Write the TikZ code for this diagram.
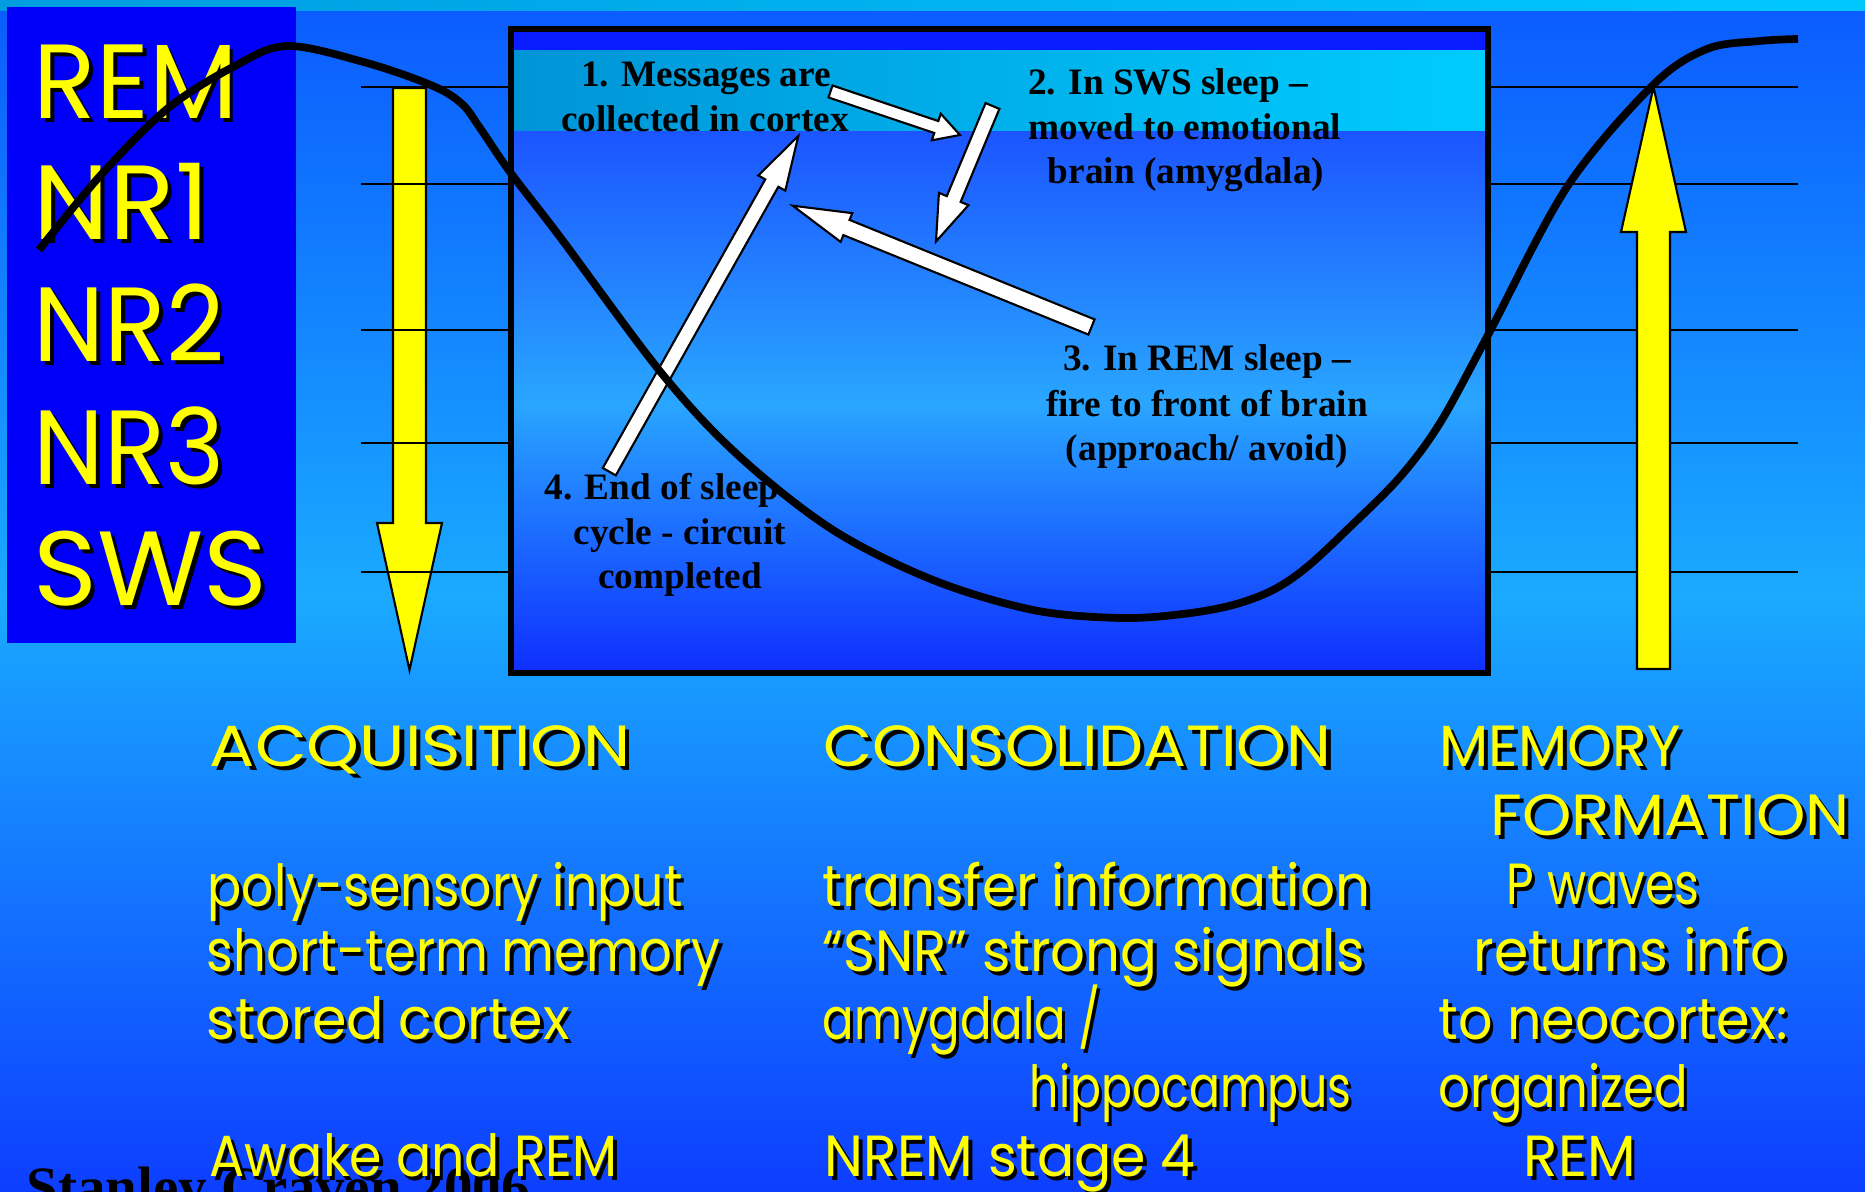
\documentclass[tikz,border=0pt]{standalone}
\usepackage{fontspec}
\usepackage{graphicx}
\setmainfont{Liberation Serif}
\newfontfamily\comic{Poppins}
\usetikzlibrary{calc}

\definecolor{bgtop}{HTML}{0B5BFF}
\definecolor{bgmid}{HTML}{1AAAFF}
\definecolor{bgbot}{HTML}{0D3EFF}
\definecolor{stripL}{HTML}{009CE0}
\definecolor{stripR}{HTML}{00C8FF}
\definecolor{labelblue}{HTML}{0000FA}
\definecolor{boxdark}{HTML}{0A1CFF}
\definecolor{cyanL}{HTML}{0094D6}
\definecolor{cyanR}{HTML}{00CCFF}
\definecolor{boxtop}{HTML}{1C55FF}
\definecolor{boxmid}{HTML}{29A6FF}
\definecolor{boxbot}{HTML}{0F2EFF}
\definecolor{yel}{HTML}{FFFF00}

% yellow lettering with a dark drop shadow
\newcommand\shtext[1]{\rlap{\kern1.1pt\raisebox{-1.1pt}{\textcolor{black}{#1}}}#1}
% the same, squeezed to a given width (in picture units)
\newlength\pxlen
\setlength\pxlen{0.01cm}
\newcommand\fitw[2]{\resizebox{#1\pxlen}{\height}{\shtext{#2}}}

% white block arrow from tail to tip: half shaft width, half head width, head length
\newcommand\blockarrow[5]{%
  \coordinate (ba-neck) at ($(#2)!#5!(#1)$);
  \draw[warrow]
    ($(#1)!#3!90:(#2)$) -- ($(ba-neck)!#3!-90:(#1)$) -- ($(ba-neck)!#4!-90:(#1)$)
    -- (#2) -- ($(ba-neck)!#4!90:(#1)$) -- ($(ba-neck)!#3!90:(#1)$)
    -- ($(#1)!#3!-90:(#2)$) -- cycle;}

\tikzset{
  gridline/.style={line width=0.6pt, black},
  yarrow/.style={fill=yel, draw=black, line width=0.6pt, line join=miter},
  warrow/.style={fill=white, draw=black, line width=0.6pt, line join=miter},
  stagelbl/.style={anchor=base west, inner sep=0pt, text=yel,
    font=\comic\fontsize{30}{30}\selectfont},
  bigtxt/.style={anchor=base west, inner sep=0pt, text=yel,
    font=\comic\fontsize{16.5}{16.5}\selectfont},
  boxtxt/.style={anchor=base, inner sep=0pt, text=black,
    font=\bfseries\fontsize{10.6}{13}\selectfont},
}

\begin{document}
\begin{tikzpicture}[x=0.01cm,y=-0.01cm]
\useasboundingbox (0,0) rectangle (1865,1192);
\clip (0,0) rectangle (1865,1192);

% background
\shade[top color=bgtop, bottom color=bgbot, middle color=bgmid] (0,0) rectangle (1865,1192);
\shade[left color=stripL, right color=stripR] (0,0) rectangle (1865,11);

% stage label panel
\fill[labelblue] (7,7) rectangle (296,643);

% main panel
\fill[boxdark] (511,29) rectangle (1488,51);
\shade[left color=cyanL, right color=cyanR] (511,51) rectangle (1488,132);
\shade[top color=boxtop, bottom color=boxbot, middle color=boxmid] (511,132) rectangle (1488,673);
\draw[line width=1.5pt] (511,29) rectangle (1488,673);

% descending yellow arrow (stage lines run over it)
\draw[yarrow] (393,88) -- (426,88) -- (426,523) -- (442,523) -- (409.5,670)
  -- (377,523) -- (393,523) -- cycle;

% stage lines
\foreach \yy in {87,184,330,443,572} {
  \draw[gridline] (361,\yy) -- (511,\yy);
  \draw[gridline] (1488,\yy) -- (1798,\yy);
}

% ascending yellow arrow (over the stage lines)
\draw[yarrow] (1637,669) -- (1670,669) -- (1670,232) -- (1686,232) -- (1653.5,87)
  -- (1621,232) -- (1637,232) -- cycle;

% stage labels
\node[stagelbl] (lrem) at (33,119) {\fitw{204}{REM}};
\node[stagelbl] (lnr1) at (33,240) {\fitw{176}{NR1}};
\node[stagelbl] (lnr2) at (33,362) {\fitw{191}{NR2}};
\node[stagelbl] (lnr3) at (33,485) {\fitw{191}{NR3}};
\node[stagelbl] (lsws) at (33,606) {\fitw{234}{SWS}};

% circuit captions
\node[boxtxt] (c1a) at (706,87) {1. Messages are};
\node[boxtxt] (c1b) at (705,132) {collected in cortex};
\node[boxtxt] (c2a) at (1168,95) {2. In SWS sleep –};
\node[boxtxt] (c2b) at (1185,140) {moved to emotional};
\node[boxtxt] (c2c) at (1186,184) {brain (amygdala)};
\node[boxtxt] (c3a) at (1207,371) {3. In REM sleep –};
\node[boxtxt] (c3b) at (1207,417) {fire to front of brain};
\node[boxtxt] (c3c) at (1207,461) {(approach/ avoid)};
\node[boxtxt] (c4a) at (662,500) {4. End of sleep};
\node[boxtxt] (c4b) at (680,545) {cycle - circuit};
\node[boxtxt] (c4c) at (680,589) {completed};

% circuit arrows
\coordinate (a1t) at (830.5,91.5); \coordinate (a1h) at (960,135);
\coordinate (a2t) at (992.5,106);  \coordinate (a2h) at (936,241.5);
\coordinate (a3t) at (1091.5,327); \coordinate (a3h) at (792.7,205.7);
\coordinate (a4t) at (609.3,471.7); \coordinate (a4h) at (798.3,136);
\blockarrow{a1t}{a1h}{0.063cm}{0.14cm}{0.25cm}
\blockarrow{a2t}{a2h}{0.075cm}{0.16cm}{0.46cm}
\blockarrow{a3t}{a3h}{0.082cm}{0.155cm}{0.58cm}
\blockarrow{a4t}{a4h}{0.075cm}{0.155cm}{0.54cm}

% sleep depth curve
\draw[line width=2.2pt, line join=round] plot[smooth, tension=0.55] coordinates {
  (39,250) (100,176) (167,109) (233,67) (287,46) (367,63) (433,86) (462,104)
  (480,128) (510,172) (560,237) (663,375) (740,457) (833,530) (933,580)
  (1033,610) (1120,618) (1183,614) (1233,605) (1273,590) (1307,567)
  (1350,527) (1400,477) (1440,423) (1488,335) (1567,187) (1653,85)
  (1707,49) (1760,41) (1798,39)};

% author credit
\node[anchor=base west, inner sep=0pt, font=\bfseries\fontsize{16.2}{16.2}\selectfont]
  (credit) at (26,1207) {Stanley Craven 2006};

% phase columns
\node[bigtxt] (acq) at (209,767) {\fitw{421}{ACQUISITION}};
\node[bigtxt] (acq1) at (207,907) {\fitw{475}{poly-sensory input}};
\node[bigtxt] (acq2) at (206,972) {\fitw{514}{short-term memory}};
\node[bigtxt] (acq3) at (206,1040) {\fitw{363}{stored cortex}};
\node[bigtxt] (acq4) at (209,1177) {\fitw{408}{Awake and REM}};

\node[bigtxt] (con) at (823,767) {\fitw{508}{CONSOLIDATION}};
\node[bigtxt] (con1) at (822,907) {\fitw{548}{transfer information}};
\node[bigtxt] (con2) at (822,972) {\fitw{542}{“SNR” strong signals}};
\node[bigtxt] (con3) at (822,1040) {\fitw{278}{amygdala /}};
\node[bigtxt] (con4) at (1029,1108) {\fitw{322}{hippocampus}};
\node[bigtxt] (con5) at (824,1177) {\fitw{371}{NREM stage 4}};

\node[bigtxt] (mem) at (1439,767) {\fitw{241}{MEMORY}};
\node[bigtxt] (mem0) at (1490,836) {\fitw{359}{FORMATION}};
\node[bigtxt] (mem1) at (1506,905) {\fitw{193}{P waves}};
\node[bigtxt] (mem2) at (1473,972) {\fitw{312}{returns info}};
\node[bigtxt] (mem3) at (1438,1040) {\fitw{349}{to neocortex:}};
\node[bigtxt] (mem4) at (1438,1108) {\fitw{249}{organized}};
\node[bigtxt] (mem5) at (1523,1177) {\fitw{112}{REM}};
\end{tikzpicture}
\end{document}
